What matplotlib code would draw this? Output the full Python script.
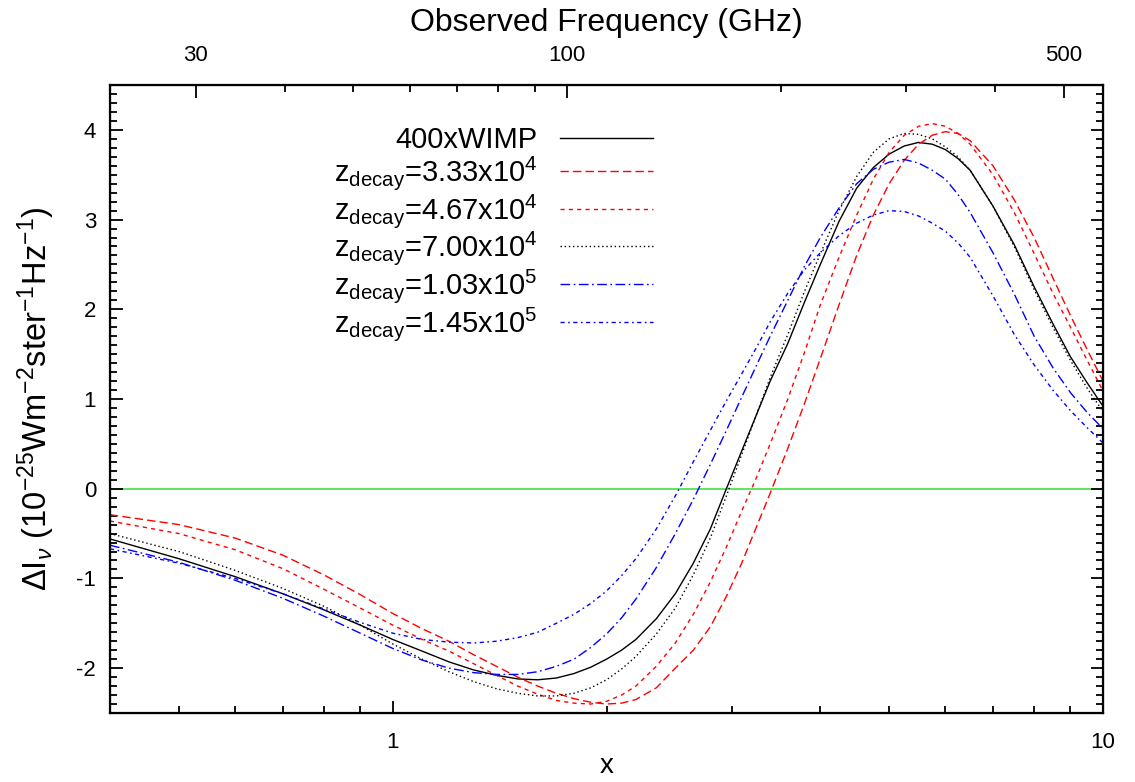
import matplotlib
matplotlib.use('Agg')
import matplotlib.pyplot as plt
from matplotlib.ticker import FixedLocator, NullFormatter, FixedFormatter, MultipleLocator

plt.rcParams['font.family'] = ['Liberation Sans', 'DejaVu Sans']
plt.rcParams['mathtext.fontset'] = 'custom'
plt.rcParams['mathtext.rm'] = 'Liberation Sans'
plt.rcParams['mathtext.it'] = 'Liberation Sans:italic'
plt.rcParams['mathtext.bf'] = 'Liberation Sans:bold'
plt.rcParams['axes.unicode_minus'] = False

# dimensionless frequency x = h nu / k T
x = [0.4, 0.5, 0.6, 0.7, 0.8, 0.9, 1.0, 1.1, 1.2, 1.3, 1.4, 1.5, 1.6, 1.7, 1.8, 1.9,
     2.0, 2.1, 2.2, 2.35, 2.5, 2.65, 2.8, 2.95, 3.1, 3.25, 3.4, 3.6, 3.8, 4.0, 4.25,
     4.5, 4.75, 5.0, 5.25, 5.5, 5.75, 6.0, 6.25, 6.5, 7.0, 7.5, 8.0, 8.5, 9.0, 9.5, 10.0]

wimp_400 = [-0.56, -0.78, -0.98, -1.17, -1.35, -1.52, -1.68, -1.81, -1.93, -2.02, -2.08,
            -2.12, -2.13, -2.11, -2.06, -1.99, -1.90, -1.80, -1.68, -1.45, -1.17, -0.83,
            -0.45, 0.00, 0.42, 0.82, 1.20, 1.62, 2.08, 2.50, 2.98, 3.35, 3.58, 3.73, 3.82,
            3.86, 3.84, 3.78, 3.68, 3.55, 3.15, 2.72, 2.25, 1.84, 1.47, 1.18, 0.92]
z_333e4 = [-0.29, -0.40, -0.55, -0.74, -0.96, -1.18, -1.39, -1.56, -1.70, -1.85, -1.98,
           -2.10, -2.20, -2.28, -2.34, -2.38, -2.40, -2.39, -2.35, -2.22, -2.00, -1.80,
           -1.54, -1.20, -0.83, -0.43, -0.05, 0.45, 0.95, 1.45, 2.05, 2.60, 3.05, 3.40,
           3.66, 3.84, 3.94, 3.98, 3.96, 3.88, 3.60, 3.22, 2.80, 2.35, 1.93, 1.55, 1.20]
z_467e4 = [-0.36, -0.50, -0.68, -0.89, -1.12, -1.33, -1.52, -1.68, -1.81, -1.95, -2.08,
           -2.20, -2.29, -2.36, -2.39, -2.40, -2.37, -2.30, -2.20, -1.98, -1.72, -1.40,
           -1.04, -0.65, -0.25, 0.12, 0.50, 1.00, 1.52, 2.05, 2.58, 3.05, 3.45, 3.75,
           3.94, 4.04, 4.07, 4.04, 3.96, 3.84, 3.50, 3.08, 2.62, 2.18, 1.80, 1.43, 1.09]
z_700e4 = [-0.50, -0.70, -0.91, -1.11, -1.31, -1.52, -1.73, -1.90, -2.04, -2.15, -2.23,
           -2.28, -2.31, -2.31, -2.28, -2.22, -2.13, -2.01, -1.87, -1.62, -1.33, -0.96,
           -0.55, -0.08, 0.38, 0.82, 1.24, 1.72, 2.20, 2.62, 3.10, 3.48, 3.75, 3.90, 3.96,
           3.95, 3.90, 3.81, 3.70, 3.55, 3.15, 2.70, 2.22, 1.80, 1.43, 1.12, 0.86]
z_103e5 = [-0.63, -0.82, -1.02, -1.22, -1.42, -1.61, -1.78, -1.91, -2.00, -2.05, -2.07,
           -2.07, -2.04, -1.98, -1.90, -1.77, -1.62, -1.44, -1.23, -0.88, -0.50, -0.12,
           0.27, 0.65, 1.02, 1.37, 1.70, 2.10, 2.48, 2.80, 3.13, 3.40, 3.56, 3.64, 3.67,
           3.63, 3.55, 3.45, 3.28, 3.08, 2.63, 2.17, 1.70, 1.35, 1.07, 0.85, 0.67]
z_145e5 = [-0.67, -0.83, -1.00, -1.17, -1.34, -1.49, -1.61, -1.68, -1.71, -1.72, -1.70,
           -1.66, -1.60, -1.50, -1.40, -1.28, -1.14, -0.97, -0.78, -0.45, -0.08, 0.30,
           0.65, 0.98, 1.28, 1.57, 1.86, 2.18, 2.44, 2.63, 2.82, 2.96, 3.05, 3.10, 3.09,
           3.04, 2.96, 2.87, 2.74, 2.58, 2.15, 1.72, 1.38, 1.10, 0.87, 0.68, 0.51]

labels = ['400xWIMP',
          r'z$_{\rm decay}$=3.33x10$^{4}$',
          r'z$_{\rm decay}$=4.67x10$^{4}$',
          r'z$_{\rm decay}$=7.00x10$^{4}$',
          r'z$_{\rm decay}$=1.03x10$^{5}$',
          r'z$_{\rm decay}$=1.45x10$^{5}$']
series = [wimp_400, z_333e4, z_467e4, z_700e4, z_103e5, z_145e5]
colors = ['black', 'red', 'red', 'black', 'blue', 'blue']
dashes = [None, (6, 3), (3, 3), (1, 2), (7, 2.5, 1.2, 2.5), (3, 2.5, 1.2, 2.5)]

GHZ_PER_X = 56.78  # observed frequency per unit x (T = 2.725 K)

fig = plt.figure(figsize=(11.35, 7.82), dpi=100)
ax = fig.add_axes([110/1135, 1 - 713/782, (1103 - 110)/1135, (713 - 85)/782])

ax.axhline(0, color='#30e030', lw=1.1, zorder=1)
for ys, lab, c, d in zip(series, labels, colors, dashes):
    ln, = ax.plot(x, ys, color=c, lw=1.0, label=lab)
    if d is not None:
        ln.set_dashes(d)

ax.set_xscale('log')
ax.set_xlim(0.4, 10)
ax.set_ylim(-2.5, 4.5)
ax.xaxis.set_major_locator(FixedLocator([1, 10]))
ax.xaxis.set_major_formatter(FixedFormatter(['1', '10']))
ax.xaxis.set_minor_locator(FixedLocator([0.4, 0.5, 0.6, 0.7, 0.8, 0.9, 2, 3, 4, 5, 6, 7, 8, 9]))
ax.xaxis.set_minor_formatter(NullFormatter())
ax.yaxis.set_major_locator(MultipleLocator(1))
ax.yaxis.set_minor_locator(MultipleLocator(0.1))

ax.tick_params(which='both', direction='in', right=True, top=False, width=1.3)
ax.tick_params(which='major', length=9, labelsize=16)
ax.tick_params(which='minor', length=5)
ax.tick_params(axis='x', which='major', pad=14)
ax.tick_params(axis='y', which='major', pad=10)
for s in ax.spines.values():
    s.set_linewidth(1.6)

ax.set_xlabel('x', fontsize=20, labelpad=0)
ax.set_ylabel(r'$\Delta$I$_{\nu}$ (10$^{-25}$Wm$^{-2}$ster$^{-1}$Hz$^{-1}$)', fontsize=23.5, labelpad=14)

ax2 = ax.twiny()
ax2.set_xscale('log')
ax2.set_xlim(0.4 * GHZ_PER_X, 10 * GHZ_PER_X)
ax2.xaxis.set_major_locator(FixedLocator([30, 100, 500]))
ax2.xaxis.set_major_formatter(FixedFormatter(['30', '100', '500']))
ax2.xaxis.set_minor_locator(FixedLocator([40, 50, 60, 70, 80, 90, 200, 300, 400]))
ax2.xaxis.set_minor_formatter(NullFormatter())
ax2.tick_params(which='both', direction='in', width=1.3)
ax2.tick_params(which='major', length=9, labelsize=16, pad=14)
ax2.tick_params(which='minor', length=5)
ax2.set_xlabel('Observed Frequency (GHz)', fontsize=23, labelpad=10)

leg = ax.legend(loc='upper right', bbox_to_anchor=((653 - 110)/993, (713 - 126)/628),
                markerfirst=False, frameon=False, fontsize=21, handlelength=3.2,
                handletextpad=0.75, labelspacing=0.0, borderpad=0, borderaxespad=0)

fig.savefig('out.png', dpi=100)
